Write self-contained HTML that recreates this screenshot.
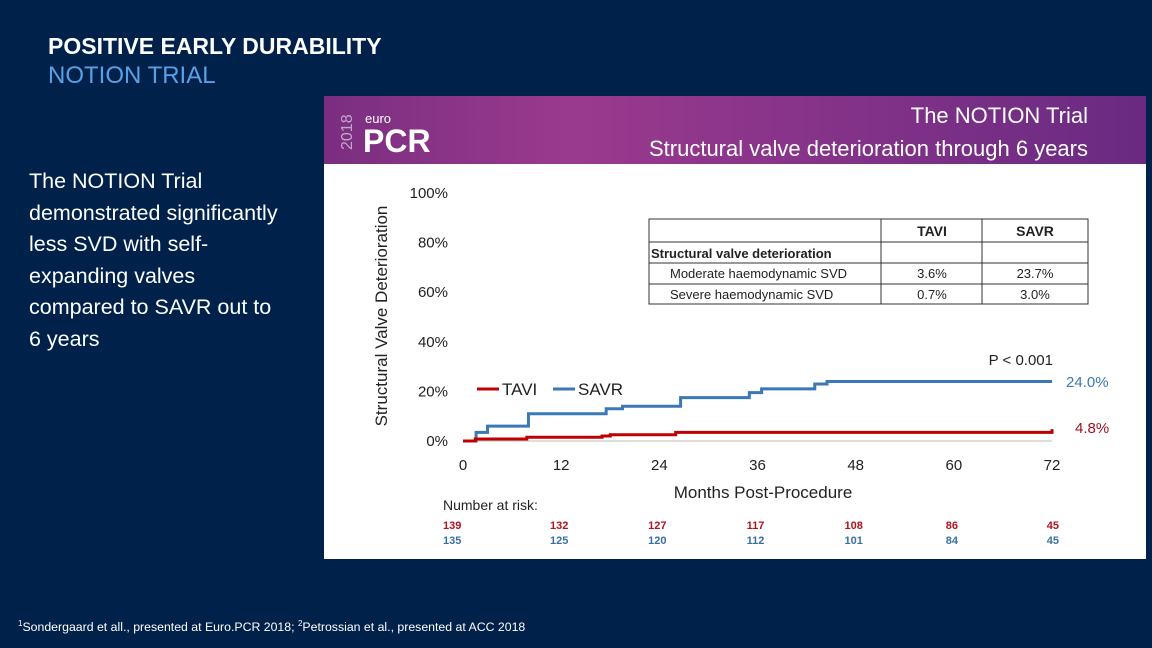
<!DOCTYPE html>
<html><head><meta charset="utf-8"><style>
body{margin:0;width:1152px;height:648px;background:#00214a;overflow:hidden;font-family:"Liberation Sans",sans-serif;position:relative}
.t1{position:absolute;left:48px;top:33px;color:#fff;font-weight:bold;font-size:23px}
.t2{position:absolute;left:48px;top:62px;color:#5aa0e6;font-size:24px}
.body{position:absolute;left:29px;top:166px;color:#fff;font-size:21.5px;line-height:31.5px;width:300px;white-space:nowrap}
.foot{position:absolute;left:18px;top:619px;color:#fff;font-size:12.3px}
</style></head><body>
<div class="t1">POSITIVE EARLY DURABILITY</div>
<div class="t2">NOTION TRIAL</div>
<div class="body">The NOTION Trial<br>demonstrated significantly<br>less SVD with self-<br>expanding valves<br>compared to SAVR out to<br>6 years</div>
<div class="foot"><sup style="font-size:8px">1</sup>Sondergaard et all., presented at Euro.PCR 2018; <sup style="font-size:8px">2</sup>Petrossian et al., presented at ACC 2018</div>
<svg id="chart" style="position:absolute;left:0;top:0" width="1152" height="648">
<defs><linearGradient id="hg" x1="0" x2="1"><stop offset="0" stop-color="#7a2e80"/><stop offset="0.3" stop-color="#9a3a8e"/><stop offset="1" stop-color="#6a2a82"/></linearGradient></defs>
<rect x="324" y="96" width="822" height="463" fill="#fff"/>
<rect x="324" y="96" width="822" height="68" fill="url(#hg)"/>
<text x="352" y="150" transform="rotate(-90 352 150)" fill="#c9a4cf" font-size="16">2018</text>
<text x="365" y="123" fill="#fff" font-size="13">euro</text>
<text x="363" y="152" fill="#fff" font-size="32" font-weight="bold">PCR</text>
<text x="1088" y="123" text-anchor="end" fill="#fff" font-size="22">The NOTION Trial</text>
<text x="1088" y="156" text-anchor="end" fill="#fff" font-size="22">Structural valve deterioration through 6 years</text>
<text x="387" y="316" transform="rotate(-90 387 316)" text-anchor="middle" fill="#222" font-size="17">Structural Valve Deterioration</text>
<text x="763" y="498" text-anchor="middle" fill="#222" font-size="17">Months Post-Procedure</text>
<text x="443" y="510" fill="#222" font-size="14">Number at risk:</text>
<g id="axes"></g><g id="lines"></g><g id="risk"></g>
<g font-size="13" fill="#222">
<rect x="649" y="219" width="439" height="85" fill="#fff" stroke="#333"/>
<line x1="649" y1="242" x2="1088" y2="242" stroke="#333"/>
<line x1="649" y1="263" x2="1088" y2="263" stroke="#333"/>
<line x1="649" y1="284" x2="1088" y2="284" stroke="#333"/>
<line x1="881" y1="219" x2="881" y2="304" stroke="#333"/>
<line x1="982" y1="219" x2="982" y2="304" stroke="#333"/>
<text x="932" y="236" text-anchor="middle" font-weight="bold" font-size="14">TAVI</text>
<text x="1035" y="236" text-anchor="middle" font-weight="bold" font-size="14">SAVR</text>
<text x="651" y="258" font-weight="bold">Structural valve deterioration</text>
<text x="670" y="278">Moderate haemodynamic SVD</text><text x="932" y="278" text-anchor="middle">3.6%</text><text x="1035" y="278" text-anchor="middle">23.7%</text>
<text x="670" y="299">Severe haemodynamic SVD</text><text x="932" y="299" text-anchor="middle">0.7%</text><text x="1035" y="299" text-anchor="middle">3.0%</text>
</g>
<text x="1053" y="365" text-anchor="end" fill="#222" font-size="15">P &lt; 0.001</text>
<line x1="477" y1="389" x2="499" y2="389" stroke="#c00000" stroke-width="3"/>
<text x="502" y="395" fill="#222" font-size="17">TAVI</text>
<line x1="553" y1="389" x2="575" y2="389" stroke="#3a78b6" stroke-width="3"/>
<text x="578" y="395" fill="#222" font-size="17">SAVR</text>
<text x="1066" y="387" fill="#3a78b6" font-size="15">24.0%</text>
<text x="1075" y="433" fill="#a0101e" font-size="15">4.8%</text>
</svg>
<script>
const xTicks=[0,12,24,36,48,60,72];
const yTicks=[0,20,40,60,80,100];
const savrMonths=[0,1,1.6,3,7.5,8,17,17.5,19.5,26,26.6,34,35,36.5,43,44.5,72];
const savrValues=[0,0,3.5,6,6,11,11,13,14,14,17.5,17.5,19.5,21,23,24,24];
const taviMonths=[0,1.5,7.8,17,18,26,71.6,72];
const taviValues=[0,0.8,1.5,2,2.5,3.5,3.5,4.8];
const riskTavi=[139,132,127,117,108,86,45];
const riskSavr=[135,125,120,112,101,84,45];
const X=m=>463+m*(1052-463)/72, Y=v=>441-v*(441-193)/100;
const NS="http://www.w3.org/2000/svg";
function mk(tag,attrs,parent,txt){const e=document.createElementNS(NS,tag);for(const k in attrs)e.setAttribute(k,attrs[k]);if(txt!==undefined)e.textContent=txt;document.getElementById(parent).appendChild(e);return e;}
const ax=mk('line',{x1:X(0),y1:Y(0),x2:X(72),y2:Y(0),stroke:'#bbb'},'axes');


xTicks.forEach(t=>{const e=mk('text',{x:X(t),y:470,'text-anchor':'middle','font-size':15,fill:'#222'},'axes',t);

});
yTicks.forEach(t=>{const e=mk('text',{x:448,y:Y(t)+5,'text-anchor':'end','font-size':15,fill:'#222'},'axes',t+'%');

});
function stepPath(ms,vs){let d='M'+X(ms[0])+','+Y(vs[0]);for(let i=1;i<ms.length;i++){d+=' L'+X(ms[i])+','+Y(vs[i-1])+' L'+X(ms[i])+','+Y(vs[i]);}return d;}
const ls=mk('path',{d:stepPath(savrMonths,savrValues),fill:'none',stroke:'#3a78b6','stroke-width':3},'lines');


const lt=mk('path',{d:stepPath(taviMonths,taviValues),fill:'none',stroke:'#c00000','stroke-width':3},'lines');


xTicks.forEach((t,i)=>{const a=i==0?'start':(i==6?'end':'middle');
const ax2=i==0?443:(i==6?1059:X(t)-2);
const e1=mk('text',{x:ax2,y:529,'text-anchor':a,'font-size':11,'font-weight':'bold',fill:'#b0141e'},'risk',riskTavi[i]);


const e2=mk('text',{x:ax2,y:544,'text-anchor':a,'font-size':11,'font-weight':'bold',fill:'#3a6fa6'},'risk',riskSavr[i]);

});
</script>
</body></html>
